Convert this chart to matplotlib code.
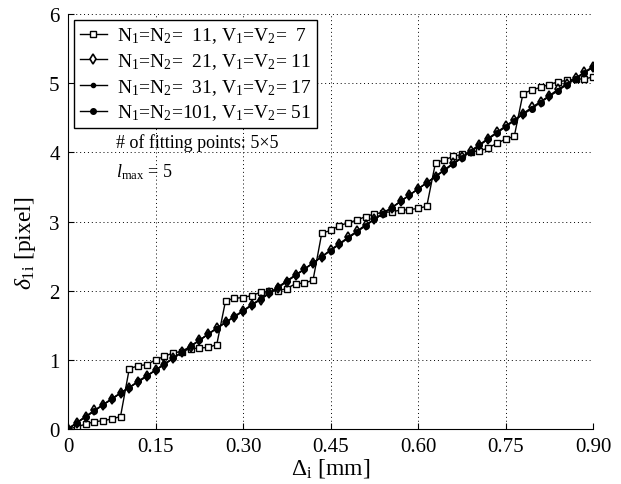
import numpy as np
import matplotlib.pyplot as plt

plt.rcParams['font.family'] = ['Liberation Serif', 'DejaVu Serif']
plt.rcParams['mathtext.fontset'] = 'custom'
plt.rcParams['mathtext.rm'] = 'Liberation Serif'
plt.rcParams['mathtext.it'] = 'Liberation Serif:italic'

# displacement in mm, step 0.015
delta_x = np.round(np.arange(61) * 0.015, 3)

# N1=N2=11, V1=V2=7  (staircase)
y_n11 = [0.00, 0.03, 0.07, 0.105, 0.12, 0.145, 0.18,
         0.87, 0.915, 0.93, 1.00, 1.05, 1.10, 1.12, 1.16, 1.17, 1.18, 1.22,
         1.85, 1.89, 1.90, 1.93, 1.975, 1.99, 2.00, 2.03, 2.10, 2.11, 2.15,
         2.83, 2.87, 2.94, 2.98, 3.02, 3.07, 3.11, 3.13, 3.14, 3.165, 3.17, 3.19, 3.22,
         3.85, 3.89, 3.94, 3.97, 4.01, 4.02, 4.06, 4.13, 4.19, 4.23,
         4.85, 4.90, 4.94, 4.98, 5.02, 5.04, 5.06, 5.06, 5.09]

# N1=N2=21, V1=V2=11
y_n21 = [0.00, 0.09, 0.18, 0.27, 0.35, 0.44, 0.52, 0.60, 0.68, 0.76,
         0.85, 0.93, 1.02, 1.11, 1.19, 1.28, 1.37, 1.46, 1.54, 1.62,
         1.70, 1.79, 1.87, 1.96, 2.04, 2.13, 2.22, 2.31, 2.40, 2.49,
         2.59, 2.68, 2.77, 2.86, 2.95, 3.03, 3.12, 3.20, 3.29, 3.38,
         3.47, 3.56, 3.65, 3.75, 3.84, 3.93, 4.02, 4.11, 4.20, 4.29,
         4.38, 4.47, 4.56, 4.65, 4.73, 4.82, 4.91, 4.99, 5.07, 5.16, 5.24]

# N1=N2=31, V1=V2=17
y_n31 = [0.00, 0.09, 0.18, 0.26, 0.35, 0.43, 0.52, 0.60, 0.68, 0.77,
         0.85, 0.94, 1.02, 1.11, 1.20, 1.28, 1.37, 1.46, 1.54, 1.62,
         1.71, 1.79, 1.88, 1.96, 2.05, 2.14, 2.22, 2.31, 2.40, 2.49,
         2.58, 2.67, 2.76, 2.85, 2.94, 3.03, 3.12, 3.20, 3.29, 3.38,
         3.47, 3.56, 3.65, 3.74, 3.83, 3.92, 4.01, 4.10, 4.19, 4.28,
         4.37, 4.46, 4.55, 4.64, 4.73, 4.81, 4.90, 4.98, 5.07, 5.15, 5.23]

# N1=N2=101, V1=V2=51
y_n101 = [0.00, 0.09, 0.17, 0.26, 0.35, 0.43, 0.52, 0.60, 0.69, 0.77,
          0.85, 0.94, 1.02, 1.11, 1.20, 1.28, 1.37, 1.45, 1.54, 1.63,
          1.71, 1.80, 1.88, 1.97, 2.05, 2.14, 2.23, 2.31, 2.40, 2.49,
          2.58, 2.67, 2.76, 2.85, 2.94, 3.03, 3.11, 3.20, 3.29, 3.38,
          3.47, 3.56, 3.65, 3.74, 3.83, 3.92, 4.01, 4.10, 4.19, 4.28,
          4.37, 4.46, 4.55, 4.63, 4.72, 4.81, 4.89, 4.98, 5.06, 5.15, 5.23]

labels = [r'N$_1$=N$_2$=  11, V$_1$=V$_2$=  7',
          r'N$_1$=N$_2$=  21, V$_1$=V$_2$= 11',
          r'N$_1$=N$_2$=  31, V$_1$=V$_2$= 17',
          r'N$_1$=N$_2$=101, V$_1$=V$_2$= 51']

x_ticks = [0, 0.15, 0.30, 0.45, 0.60, 0.75, 0.90]
x_ticklabels = ['0', '0.15', '0.30', '0.45', '0.60', '0.75', '0.90']
y_ticks = [0, 1, 2, 3, 4, 5, 6]

fig = plt.figure(figsize=(6.21, 4.85), dpi=100)
ax = fig.add_axes([68 / 621, 55 / 485, 525 / 621, 415 / 485])

ax.plot(delta_x, y_n11, '-s', color='black', lw=1.0, ms=4.5, mfc='white', mew=1.0, label=labels[0])
ax.plot(delta_x, y_n21, '-d', color='black', lw=1.0, ms=5.5, mfc='white', mew=1.2, label=labels[1])
ax.plot(delta_x, y_n31, color='black', lw=1.0, marker='.', ms=6, label=labels[2])
ax.plot(delta_x, y_n101, '-o', color='black', lw=1.0, ms=4, label=labels[3])

ax.set_xlim(0, 0.9)
ax.set_ylim(0, 6)
ax.set_xticks(x_ticks)
ax.set_xticklabels(x_ticklabels)
ax.set_yticks(y_ticks)
ax.tick_params(direction='in', length=4, labelsize=15, pad=6)
ax.grid(True, linestyle=(0, (1, 3)), color='black', linewidth=0.7)
ax.spines['top'].set_visible(False)
ax.spines['right'].set_visible(False)

ax.set_xlabel(r'$\Delta_{\rm i}$ [mm]', fontsize=17, labelpad=0)
ax.set_ylabel(r'$\delta_{\rm 1i}$ [pixel]', fontsize=17)
ax.yaxis.set_label_coords(-0.057, 0.45)

ax.text(0.082, 4.08, '# of fitting points: 5×5', fontsize=13)
ax.text(0.082, 3.66, r'$l_{\rm max}$ = 5', fontsize=13)

leg = ax.legend(loc='upper left', fontsize=14, handlelength=1.4, handletextpad=0.5,
                borderaxespad=0.3, labelspacing=0.3, fancybox=False, framealpha=1,
                edgecolor='black', borderpad=0.3)
leg.get_frame().set_linewidth(1.0)

plt.savefig('out.png', dpi=100)
